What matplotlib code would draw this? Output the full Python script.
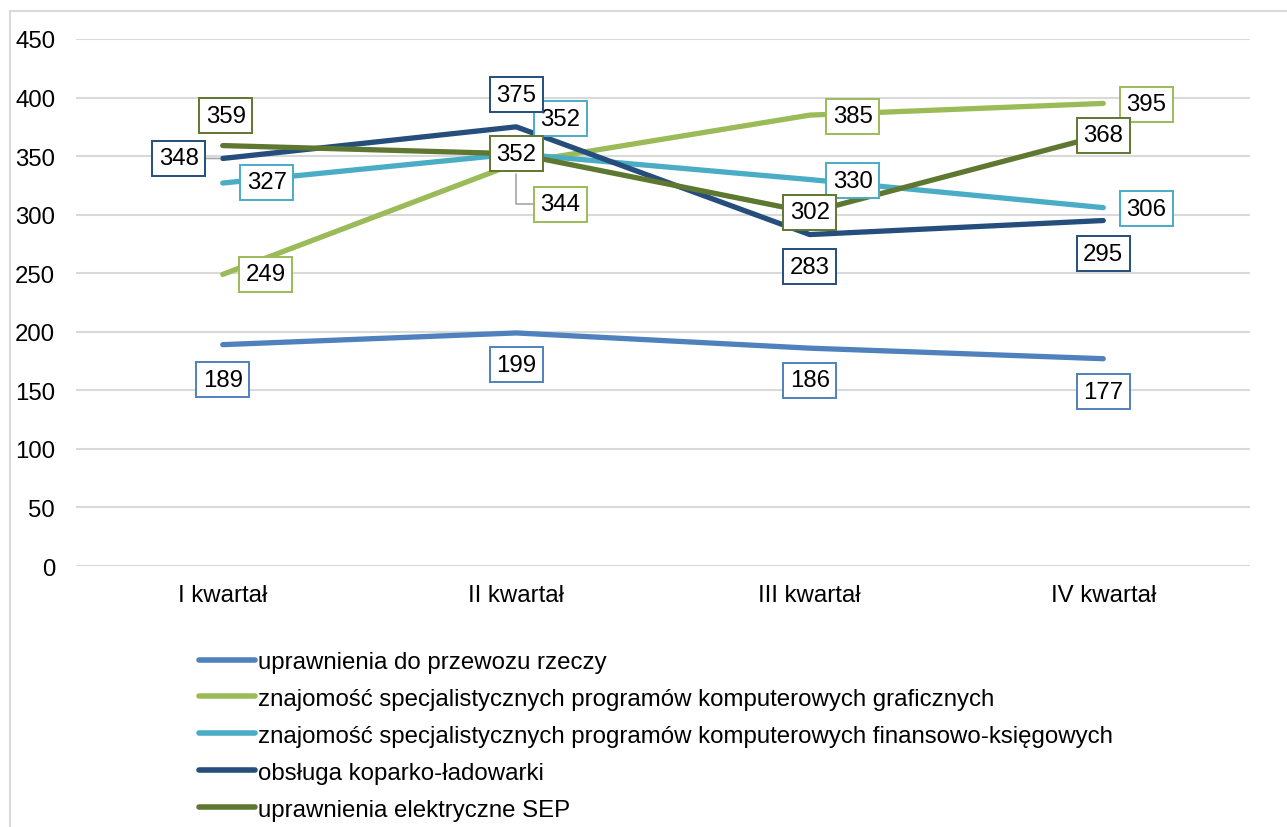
import matplotlib
matplotlib.use("Agg")
import matplotlib.pyplot as plt
from matplotlib.patches import Rectangle

plt.rcParams['font.family'] = ['Liberation Sans', 'DejaVu Sans']

categories = ["I kwartał", "II kwartał", "III kwartał", "IV kwartał"]
series_names = [
    "uprawnienia do przewozu rzeczy",
    "znajomość specjalistycznych programów komputerowych graficznych",
    "znajomość specjalistycznych programów komputerowych finansowo-księgowych",
    "obsługa koparko-ładowarki",
    "uprawnienia elektryczne SEP",
]
przewoz = [189, 199, 186, 177]
graficzne = [249, 344, 385, 395]
finansowe = [327, 352, 330, 306]
koparka = [348, 375, 283, 295]
sep = [359, 352, 302, 368]
yticks = [0, 50, 100, 150, 200, 250, 300, 350, 400, 450]

colors = ["#4F81BD", "#9BBB59", "#4BACC6", "#254E7C", "#5E7731"]
all_series = [przewoz, graficzne, finansowe, koparka, sep]

# label offsets in pixels (dx, dy) relative to the point
offsets = [
    [(0, -35), (0, -32), (0, -32), (0, -33)],
    [(43, 0), (44, -41), (43, -1), (43, -1)],
    [(44, 1), (44, 35), (43, -1), (43, -1)],
    [(-44, 0), (0, 32), (0, -32), (0, -33)],
    [(3, 30), (0, 0), (0, 0), (0, 0)],
]

FS = 17.3

fig = plt.figure(figsize=(12.87, 8.28), dpi=100)
fig.patches.append(Rectangle((10 / 1287, -0.1), 1.2, 1.1 - 12 / 828,
                             transform=fig.transFigure, fill=False,
                             edgecolor="#D9D9D9", linewidth=1.5))
ax = fig.add_axes([76 / 1287, 1 - 567 / 828, (1250 - 76) / 1287, (567 - 40) / 828])
x = list(range(len(categories)))
ax.set_xlim(-0.5, len(categories) - 0.5)
ax.set_ylim(0, 450)
ax.set_yticks(yticks)
ax.set_xticks(x)
ax.set_xticklabels(categories)
ax.tick_params(axis='both', length=0, labelsize=FS, colors="#000000")
ax.tick_params(axis='y', pad=15)
ax.tick_params(axis='x', pad=13)
for s in ax.spines.values():
    s.set_visible(False)
ax.grid(axis='y', color="#D9D9D9", linewidth=1.5)
ax.set_axisbelow(True)

handles = []
for i, (vals, c, name) in enumerate(zip(all_series, colors, series_names)):
    h, = ax.plot(x, vals, color=c, linewidth=3.8, solid_capstyle='round',
                 solid_joinstyle='round', label=name, zorder=2 + i * 0.1)
    handles.append(h)

for i, (vals, c) in enumerate(zip(all_series, colors)):
    for j, v in enumerate(vals):
        dx, dy = offsets[i][j]
        arrow = None
        if (i, j) == (1, 1):
            arrow = dict(arrowstyle='-', color="#A6A6A6", lw=1.2,
                         connectionstyle="angle,angleA=0,angleB=90,rad=0",
                         shrinkA=0, shrinkB=8)
        elif (i, j) in [(2, 1), (3, 0)]:
            arrow = dict(arrowstyle='-', color="#A6A6A6", lw=1.2,
                         shrinkA=0, shrinkB=2)
        ax.annotate(str(v), xy=(j, v), xytext=(dx, dy), textcoords='offset pixels',
                    ha='center', va='center', fontsize=FS, color="#000000",
                    bbox=dict(boxstyle='square,pad=0.27', fc='white', ec=c, lw=1.4),
                    arrowprops=arrow, zorder=5)

leg = fig.legend(handles=handles, labels=series_names, loc='upper left',
                 bbox_to_anchor=(199 / 1287, 1 - 652 / 828), frameon=False,
                 fontsize=FS, handlelength=2.35, handletextpad=0.12,
                 labelspacing=0.62, borderaxespad=0, borderpad=0)
for lh in leg.get_lines():
    lh.set_linewidth(4)
    lh.set_solid_capstyle('round')

fig.savefig("out.png", dpi=100)
